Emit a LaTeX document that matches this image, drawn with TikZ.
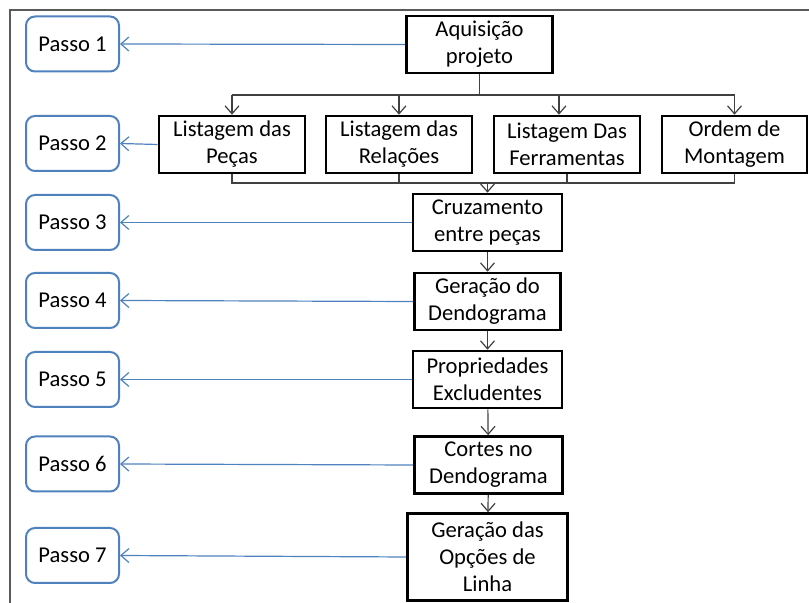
\documentclass[tikz,border=0pt]{standalone}
\usepackage{fontspec}
\setmainfont{Carlito}
\usepackage{tikz}
\usetikzlibrary{arrows.meta,calc}
\usepackage{xcolor}
\definecolor{passoblue}{HTML}{4F81BD}
\definecolor{linkgray}{HTML}{404040}
\definecolor{framegray}{HTML}{5A5A5A}

\begin{document}
\begin{tikzpicture}[>={Straight Barb[length=4pt,width=7pt]},x=0.5pt,y=-0.5pt,
  font=\fontsize{11.3}{13.5}\selectfont,
  passo/.style={draw=passoblue,line width=1pt,rounded corners=4.5pt,
    minimum width=46.5pt,minimum height=27.5pt,inner sep=0pt},
  etapa/.style={draw,line width=1.3pt,minimum width=73pt,minimum height=28.5pt,
    align=center,inner sep=0pt},
  liga/.style={linkgray,line width=0.6pt},
  aponta/.style={->,passoblue,line width=0.6pt}]
  \useasboundingbox (0,0) rectangle (809,603);
  % moldura
  \draw[framegray,line width=0.8pt] (10,603) -- (10,10) -- (809,10);
  % passos
  \node[passo] (p1) at (72.5,44) {Passo 1};
  \node[passo] (p2) at (72.5,143.5) {Passo 2};
  \node[passo] (p3) at (72.5,222.5) {Passo 3};
  \node[passo] (p4) at (72.5,300.5) {Passo 4};
  \node[passo] (p5) at (72.5,379.5) {Passo 5};
  \node[passo] (p6) at (72.5,464) {Passo 6};
  \node[passo] (p7) at (72.5,555.5) {Passo 7};
  % etapas
  \node[etapa] (aquis) at (479.5,44.5) {Aquisição\\projeto};
  \node[etapa] (pecas) at (232,144.5) {Listagem das\\Peças};
  \node[etapa] (rel) at (399,144.5) {Listagem das\\Relações};
  \node[etapa] (ferr) at (567,144.5) {Listagem Das\\Ferramentas};
  \node[etapa,minimum width=72.5pt] (ordem) at (734.5,144.5) {Ordem de\\Montagem};
  \node[etapa,minimum width=74.5pt] (cruz) at (487.5,222.5) {Cruzamento\\entre peças};
  \node[etapa] (dendo) at (487.5,301.5) {Geração do\\Dendograma};
  \node[etapa,minimum width=74.5pt] (prop) at (487.5,379.5) {Propriedades\\Excludentes};
  \node[etapa,minimum width=74pt] (cortes) at (488.5,465) {Cortes no\\Dendograma};
  \node[etapa,minimum width=80pt,minimum height=43.5pt] (opcoes) at (487.5,557) {Geração das\\Opções de\\Linha};
  % ramificação
  \coordinate (abre) at (479.5,95);
  \coordinate (junta) at (487.5,183);
  \draw[liga] (aquis.south) -- (abre);
  \draw[liga] (pecas.north |- abre) -- (ordem.north |- abre);
  \draw[liga,->] (pecas.north |- abre) -- (pecas.north);
  \draw[liga,->] (rel.north |- abre) -- (rel.north);
  \draw[liga,->] ([xshift=-4pt]ferr.north |- abre) -- ([xshift=-4pt]ferr.north);
  \draw[liga,->] (ordem.north |- abre) -- (ordem.north);
  % junção
  \draw[liga] (pecas.south) -- (pecas.south |- junta) -- (ordem.south |- junta) -- (ordem.south);
  \draw[liga] (rel.south) -- (rel.south |- junta);
  \draw[liga] (ferr.south) -- (ferr.south |- junta);
  \draw[liga,->] (junta) -- (cruz.north);
  \draw[liga,->] (cruz) -- (dendo);
  \draw[liga,->] (dendo) -- (prop);
  \draw[liga,->] (prop) -- (cortes);
  \draw[liga,->] (cortes) -- (opcoes);
  % setas para os passos
  \draw[aponta] (aquis.west) -- (p1.east);
  \draw[aponta] (pecas.west) -- (p2.east);
  \draw[aponta] (cruz.west) -- (p3.east);
  \draw[aponta] (dendo.west) -- (p4.east);
  \draw[aponta] (prop.west) -- (p5.east);
  \draw[aponta] (cortes.west) -- (p6.east);
  \draw[aponta] (opcoes.west) -- (p7.east);
\end{tikzpicture}
\end{document}
